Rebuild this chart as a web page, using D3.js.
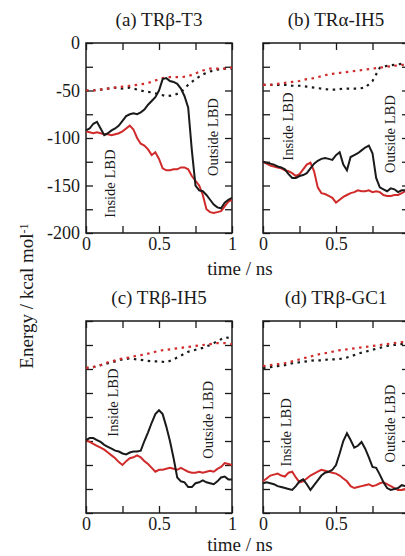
<!DOCTYPE html>
<html>
<head>
<meta charset="utf-8">
<script src="https://cdn.jsdelivr.net/npm/d3@7"></script>
<style>
  html, body { margin: 0; padding: 0; background: #fff; }
  svg { display: block; font-family: "Liberation Serif", "DejaVu Serif", serif; }
</style>
</head>
<body>
<svg width="405" height="556"></svg>
<script>
// time grids (ns)
const times = [0, 0.025, 0.05, 0.075, 0.1, 0.125, 0.15, 0.175, 0.2, 0.225, 0.25,
  0.275, 0.3, 0.325, 0.35, 0.375, 0.4, 0.425, 0.45, 0.475, 0.5,
  0.525, 0.55, 0.575, 0.6, 0.625, 0.65, 0.675, 0.7, 0.725, 0.75,
  0.775, 0.8, 0.825, 0.85, 0.875, 0.9, 0.925, 0.95, 0.975, 1];
const dotTimes = [0, 0.05, 0.1, 0.15, 0.2, 0.25, 0.3, 0.35, 0.4, 0.45, 0.5,
  0.55, 0.6, 0.65, 0.7, 0.75, 0.8, 0.85, 0.9, 0.95, 1];

// (a) TRb-T3
const aBlack = [-92, -90, -85, -83, -90, -97, -95, -92, -90, -87, -82, -77, -75, -74, -75, -73, -70, -65, -61, -57, -50,
  -38, -37, -40, -41, -43, -48, -56, -68, -113, -150, -155, -156, -160, -165, -170, -173, -174, -168, -165, -163];
const aRed = [-93, -94, -95, -94, -95, -96, -96, -97, -96, -95, -93, -90, -87, -91, -100, -106, -108, -112, -118, -115, -122,
  -132, -134, -134, -133, -133, -131, -131, -133, -140, -145, -150, -160, -175, -178, -179, -178, -177, -172, -167, -165];
const aBlackDot = [-50, -50, -49, -48, -47, -48, -47, -49, -51, -52, -54, -56, -55, -52, -44, -38, -33, -30, -28, -27, -27];
const aRedDot = [-50, -50, -49, -48, -47, -46, -45, -44, -43, -41, -38, -36, -36, -36, -35, -32, -29, -27, -27, -27, -26];

// (b) TRa-IH5
const bBlack = [-125, -126, -127, -128, -130, -131, -133, -138, -142, -142, -140, -139, -137, -132, -127, -124, -122, -121, -122, -123, -118,
  -115, -128, -134, -120, -118, -116, -113, -110, -108, -116, -142, -152, -154, -156, -153, -154, -157, -155, -155, -156];
const bRed = [-125, -127, -129, -130, -131, -132, -134, -135, -137, -140, -138, -133, -128, -126, -135, -152, -158, -159, -161, -163, -168,
  -165, -162, -160, -158, -157, -155, -156, -156, -155, -157, -156, -157, -160, -161, -161, -160, -160, -158, -156, -155];
const bBlackDot = [-44, -44, -44, -44, -45, -45, -46, -47, -48, -49, -49, -48, -48, -48, -47, -40, -26, -24, -23, -22, -22];
const bRedDot = [-44, -44, -43, -42, -41, -40, -38, -37, -35, -33, -32, -31, -30, -29, -28, -27, -26, -25, -24, -23, -23];

// (c) TRb-IH5
const cBlack = [-124, -122, -122, -124, -126, -129, -131, -133, -135, -136, -138, -139, -137, -136, -136, -135, -125, -116, -106, -97, -93,
  -97, -110, -125, -143, -163, -167, -168, -173, -173, -169, -168, -166, -168, -169, -170, -167, -163, -162, -165, -165];
const cRed = [-124, -126, -128, -130, -132, -134, -137, -140, -143, -147, -150, -146, -143, -142, -140, -142, -146, -149, -153, -157, -155,
  -155, -154, -153, -154, -155, -153, -155, -157, -158, -158, -157, -158, -157, -156, -157, -154, -152, -148, -149, -150];
const cBlackDot = [-49, -48, -46, -44, -42, -40, -39, -40, -41, -42, -42, -43, -40, -36, -32, -30, -28, -25, -21, -17, -18];
const cRedDot = [-49, -48, -46, -43, -41, -39, -38, -36, -35, -33, -31, -30, -29, -28, -27, -26, -25, -24, -23, -23, -24];

// (d) TRb-GC1
const dBlack = [-169, -168, -169, -170, -172, -173, -174, -175, -176, -172, -167, -165, -170, -176, -171, -166, -161, -158, -157, -155, -150,
  -138, -125, -117, -124, -132, -130, -126, -133, -142, -152, -153, -160, -168, -174, -176, -175, -174, -171, -172, -173];
const dRed = [-167, -164, -161, -160, -159, -161, -162, -158, -157, -163, -168, -167, -164, -161, -159, -157, -155, -156, -157, -158, -159,
  -161, -164, -167, -172, -174, -173, -172, -171, -170, -172, -171, -169, -168, -170, -172, -174, -176, -176, -175, -175];
const dBlackDot = [-49, -48, -47, -46, -44, -43, -42, -41, -41, -40, -40, -39, -37, -34, -32, -30, -28, -26, -25, -24, -23];
const dRedDot = [-47, -46, -45, -44, -42, -40, -38, -36, -34, -33, -31, -30, -29, -28, -27, -26, -25, -24, -23, -22, -22];

const titles = ["(a) TRβ-T3", "(b) TRα-IH5", "(c) TRβ-IH5", "(d) TRβ-GC1"];
const xTicks = [0, 0.25, 0.5, 0.75, 1];
const yTicks = [0, -25, -50, -75, -100, -125, -150, -175, -200];
// where the rotated notes sit, in data units [time, energy]
const insideAt = [[0.2, -148], [0.205, -88], [0.22, -85], [0.19, -116]];
const outsideAt = [[0.905, -99], [0.905, -96], [0.87, -103], [0.905, -107]];

const series = [
  [aBlack, aRed, aBlackDot, aRedDot],
  [bBlack, bRed, bBlackDot, bRedDot],
  [cBlack, cRed, cBlackDot, cRedDot],
  [dBlack, dRed, dBlackDot, dRedDot]
];

const RED = "#d02a2a", INK = "#1a1a1a";
const cols = [86, 263], rows = [[43, 233], [321, 513]], pw = 146;

const svg = d3.select("svg");

series.forEach(function(s, i) {
  var left = cols[i % 2], top = rows[Math.floor(i / 2)][0], bottom = rows[Math.floor(i / 2)][1];
  var x = d3.scaleLinear().domain([0, 1]).range([left, left + pw]);
  var y = d3.scaleLinear().domain([-200, 0]).range([bottom, top]);
  var g = svg.append("g");

  // axes with inward ticks on all four sides; the right column is cut by the page edge
  var fmtX = d => ((d * 2) % 1 === 0 && !(i % 2 === 1 && d === 1)) ? d3.format("")(d) : "";
  var fmtY = d => (i === 0 && d % 50 === 0) ? d : "";
  g.append("g").attr("transform", "translate(0," + bottom + ")")
    .call(d3.axisBottom(x).tickValues(xTicks).tickSizeInner(-7).tickSizeOuter(0).tickPadding(4).tickFormat(fmtX));
  g.append("g").attr("transform", "translate(0," + top + ")")
    .call(d3.axisTop(x).tickValues(xTicks).tickSizeInner(-7).tickSizeOuter(0).tickFormat(""));
  g.append("g").attr("transform", "translate(" + left + ",0)")
    .call(d3.axisLeft(y).tickValues(yTicks).tickSizeInner(-7).tickSizeOuter(0).tickPadding(6).tickFormat(fmtY));
  g.append("g").attr("transform", "translate(" + (left + pw) + ",0)")
    .call(d3.axisRight(y).tickValues(yTicks).tickSizeInner(-7).tickSizeOuter(0).tickFormat(""));
  g.selectAll(".domain").remove();
  g.selectAll(".tick line").attr("stroke", INK).attr("stroke-width", 1.3);
  g.selectAll(".tick text").attr("fill", INK).style("font-size", "18px")
    .style("font-family", "Liberation Serif");

  g.append("rect").attr("x", left).attr("y", top).attr("width", pw).attr("height", bottom - top)
    .attr("fill", "none").attr("stroke", INK).attr("stroke-width", 1.5);

  var line = d3.line().x(d => x(d[0])).y(d => y(d[1]));
  var dotted = [[s[2], INK], [s[3], RED]];
  dotted.forEach(function(p) {
    g.append("path").datum(dotTimes.map((t, k) => [t, p[0][k]]))
      .attr("d", line).attr("fill", "none").attr("stroke", p[1])
      .attr("stroke-width", 2.2).attr("stroke-dasharray", "2.5,4.5");
  });
  g.append("path").datum(times.map((t, k) => [t, s[1][k]]))
    .attr("d", line).attr("fill", "none").attr("stroke", RED).attr("stroke-width", 2);
  g.append("path").datum(times.map((t, k) => [t, s[0][k]]))
    .attr("d", line).attr("fill", "none").attr("stroke", INK).attr("stroke-width", 2);

  // panel title
  g.append("text").attr("x", left + pw / 2).attr("y", top - 17)
    .attr("text-anchor", "middle").attr("fill", INK).style("font-size", "19px").text(titles[i]);

  // rotated notes
  [["Inside LBD", insideAt[i]], ["Outside LBD", outsideAt[i]]].forEach(function(n) {
    g.append("text").attr("transform", "translate(" + x(n[1][0]) + "," + y(n[1][1]) + ") rotate(-90)")
      .attr("text-anchor", "middle").attr("fill", INK).style("font-size", "14.5px").text(n[0]);
  });
});

// shared axis titles
[rows[0][1] + 42, rows[1][1] + 38].forEach(function(yy) {
  svg.append("text").attr("x", 240).attr("y", yy).attr("text-anchor", "middle")
    .attr("fill", INK).style("font-size", "19px").text("time / ns");
});
var yl = svg.append("text").attr("transform", "translate(33,296) rotate(-90)")
  .attr("text-anchor", "middle").attr("fill", INK).style("font-size", "19px");
yl.append("tspan").text("Energy / kcal mol");
yl.append("tspan").attr("dy", "-0.45em").style("font-size", "12px").text("-1");
</script>
</body>
</html>
